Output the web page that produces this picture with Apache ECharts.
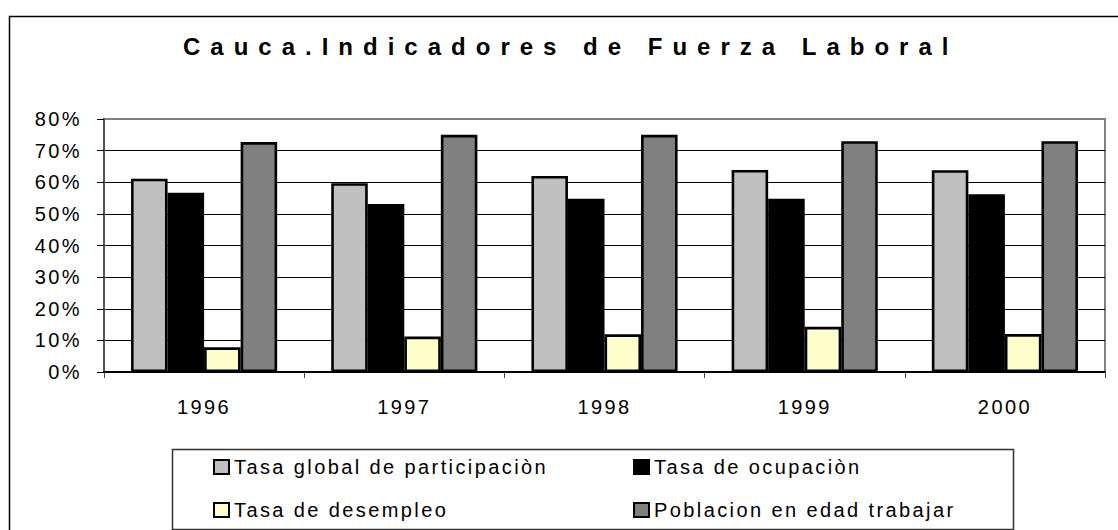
<!DOCTYPE html>
<html>
<head>
<meta charset="utf-8">
<script src="https://cdn.jsdelivr.net/npm/echarts@6/dist/echarts.min.js"></script>
<style>
  html, body { margin: 0; padding: 0; background: #fff; }
  #main { width: 1118px; height: 530px; }
  #main text { letter-spacing: 2.4px; }
</style>
</head>
<body>
<div id="main"></div>
<script>
// datos (porcentajes)
var years = ['1996', '1997', '1998', '1999', '2000'];
var participacion = [61.1, 59.7, 62.0, 63.9, 63.8];
var ocupacion = [56.7, 53.1, 54.8, 54.8, 56.2];
var desempleo = [7.8, 11.2, 11.9, 14.3, 12.0];
var edadTrabajar = [72.7, 75.0, 75.0, 73.0, 73.0];
var names = [
  'Tasa global de participaciòn',
  'Tasa de ocupaciòn',
  'Tasa de desempleo',
  'Poblacion en edad trabajar'
];
var yTicks = [0, 10, 20, 30, 40, 50, 60, 70, 80];

var font = 'Liberation Sans, Arial, sans-serif';
var colors = ['#C0C0C0', '#000000', '#FFFFCC', '#808080'];

var chart = echarts.init(document.getElementById('main'), null, { renderer: 'svg' });

function bar(name, data, color) {
  return {
    name: name,
    type: 'bar',
    data: data,
    barGap: '0%',
    barCategoryGap: '27%',
    itemStyle: { color: color, borderColor: '#000', borderWidth: 2.6 }
  };
}

var legendCommon = {
  orient: 'vertical',
  top: 457,
  padding: 0,
  itemGap: 23,
  itemWidth: 15,
  itemHeight: 14,
  icon: 'rect',
  itemStyle: { borderColor: '#000', borderWidth: 2 },
  textStyle: { fontFamily: font, fontSize: 20, color: '#000' }
};

chart.setOption({
  animation: false,
  color: colors,
  title: {
    text: 'Cauca.Indicadores de Fuerza Laboral',
    left: 178,
    top: 29,
    textStyle: { fontFamily: font, fontSize: 24, fontWeight: 'bold', color: '#000' }
  },
  graphic: [
    {
      type: 'rect',
      left: 7, top: 14,
      shape: { width: 1200, height: 600 },
      style: { fill: 'none', stroke: '#000', lineWidth: 1.5 },
      z: -10
    },
    {
      type: 'rect',
      left: 170, top: 447,
      shape: { width: 841, height: 80 },
      style: { fill: 'none', stroke: '#333', lineWidth: 1.5 },
      z: -5
    }
  ],
  legend: [
    Object.assign({}, legendCommon, { left: 213, data: [names[0], names[2]] }),
    Object.assign({}, legendCommon, { left: 633, data: [names[1], names[3]] })
  ],
  grid: {
    left: 104, right: 13, top: 119, bottom: 158,
    show: true,
    borderColor: '#808080',
    borderWidth: 2,
    backgroundColor: '#fff'
  },
  xAxis: {
    type: 'category',
    data: years,
    axisLine: { lineStyle: { color: '#000', width: 2 } },
    axisTick: { show: true, length: 6, lineStyle: { color: '#444' } },
    axisLabel: { fontFamily: font, fontSize: 20, color: '#000', margin: 25 }
  },
  yAxis: {
    type: 'value',
    min: 0,
    max: 80,
    interval: 10,
    axisLine: { show: true, lineStyle: { color: '#555', width: 2 } },
    axisTick: { show: true, length: 7, lineStyle: { color: '#000' } },
    axisLabel: {
      fontFamily: font, fontSize: 20, color: '#000', margin: 22,
      formatter: function (v) { return yTicks.indexOf(v) >= 0 ? v + '%' : ''; }
    },
    splitLine: {
      show: true,
      lineStyle: {
        width: 1,
        color: ['#000', '#000', '#000', '#000', '#000', '#000', '#000', '#000', '#808080']
      }
    }
  },
  series: [
    bar(names[0], participacion, colors[0]),
    bar(names[1], ocupacion, colors[1]),
    bar(names[2], desempleo, colors[2]),
    bar(names[3], edadTrabajar, colors[3])
  ]
});

function spaceTitle() {
  var texts = document.querySelectorAll('#main text');
  for (var i = 0; i < texts.length; i++) {
    if (texts[i].textContent.indexOf('Cauca') === 0) {
      texts[i].style.letterSpacing = '10px';
    }
  }
}
spaceTitle();
chart.on('finished', spaceTitle);
</script>
</body>
</html>
